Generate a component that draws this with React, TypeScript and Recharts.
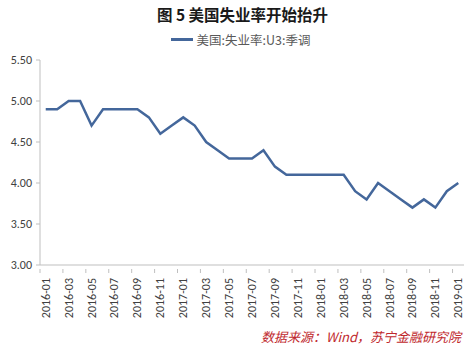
import React from 'react';
import { LineChart, Line, XAxis, YAxis, Legend } from 'recharts';

if (typeof document !== 'undefined') document.body.style.margin = '0';

const months = [
  '2016-01', '2016-02', '2016-03', '2016-04', '2016-05', '2016-06', '2016-07', '2016-08', '2016-09', '2016-10', '2016-11', '2016-12',
  '2017-01', '2017-02', '2017-03', '2017-04', '2017-05', '2017-06', '2017-07', '2017-08', '2017-09', '2017-10', '2017-11', '2017-12',
  '2018-01', '2018-02', '2018-03', '2018-04', '2018-05', '2018-06', '2018-07', '2018-08', '2018-09', '2018-10', '2018-11', '2018-12',
  '2019-01',
];

const unemployment = [
  4.9, 4.9, 5.0, 5.0, 4.7, 4.9, 4.9, 4.9, 4.9, 4.8, 4.6, 4.7,
  4.8, 4.7, 4.5, 4.4, 4.3, 4.3, 4.3, 4.4, 4.2, 4.1, 4.1, 4.1,
  4.1, 4.1, 4.1, 3.9, 3.8, 4.0, 3.9, 3.8, 3.7, 3.8, 3.7, 3.9,
  4.0,
];

const yTicks = [3.0, 3.5, 4.0, 4.5, 5.0, 5.5];

const SERIES = '美国:失业率:U3:季调';
const data = months.map((m, i) => ({ month: m, value: unemployment[i] }));

const W = 469;
const H = 351;
const PLOT_LEFT = 40;
const PLOT_RIGHT = 464;
const HALF = (PLOT_RIGHT - PLOT_LEFT) / months.length / 2;
const FONT = 'Calibri, "Open Sans", "Noto Sans", sans-serif';
const CJK = '"Noto Sans CJK SC", sans-serif';

const MonthTick = (props: any) => {
  const { x, y, payload } = props;
  return (
    <g>
      <line x1={x - HALF} x2={x - HALF} y1={y - 4} y2={y} stroke="#bfbfbf" />
      <text
        transform={`translate(${x + 4},${y + 5}) rotate(-90)`}
        textAnchor="end"
        fontSize={12}
        fill="#404040"
        fontFamily={FONT}
      >
        {payload.value}
      </text>
    </g>
  );
};

const LegendContent = () => (
  <div style={{ display: 'flex', alignItems: 'center', justifyContent: 'center', fontFamily: CJK, fontSize: 12.5, color: '#595959' }}>
    <span style={{ display: 'inline-block', width: 22, height: 2.5, background: '#44679b', marginRight: 4 }} />
    {SERIES}
  </div>
);

export default function App() {
  return (
    <div style={{ position: 'relative', width: W, height: H, background: '#fff' }}>
      <div
        style={{
          position: 'absolute', top: 3, left: 8, width: W, textAlign: 'center',
          fontFamily: CJK, fontWeight: 'bold', fontSize: 15.5, color: '#1a1a1a',
        }}
      >
        图 5 美国失业率开始抬升
      </div>
      <LineChart width={W} height={H} data={data} margin={{ top: 41, right: W - PLOT_RIGHT, bottom: 0, left: 0 }}>
        <Legend verticalAlign="top" content={<LegendContent />} wrapperStyle={{ top: 30, left: 6, width: W }} />
        <XAxis
          dataKey="month"
          interval={1}
          height={86}
          padding={{ left: HALF, right: HALF }}
          tick={<MonthTick />}
          tickLine={false}
          axisLine={{ stroke: '#bfbfbf' }}
        />
        <YAxis
          domain={[3, 5.5]}
          ticks={yTicks}
          width={PLOT_LEFT}
          tickSize={4}
          tickMargin={4}
          tickFormatter={(v: number) => v.toFixed(2)}
          tick={{ fontSize: 12, fill: '#404040', fontFamily: FONT }}
          tickLine={{ stroke: '#bfbfbf' }}
          axisLine={{ stroke: '#bfbfbf' }}
        />
        <Line
          type="linear"
          dataKey="value"
          name={SERIES}
          stroke="#44679b"
          strokeWidth={2.5}
          dot={false}
          isAnimationActive={false}
        />
      </LineChart>
      <div
        style={{
          position: 'absolute', right: 8, top: 327, fontFamily: CJK, fontStyle: 'italic',
          fontSize: 13, color: '#c0282d',
        }}
      >
        数据来源：Wind，苏宁金融研究院
      </div>
    </div>
  );
}
